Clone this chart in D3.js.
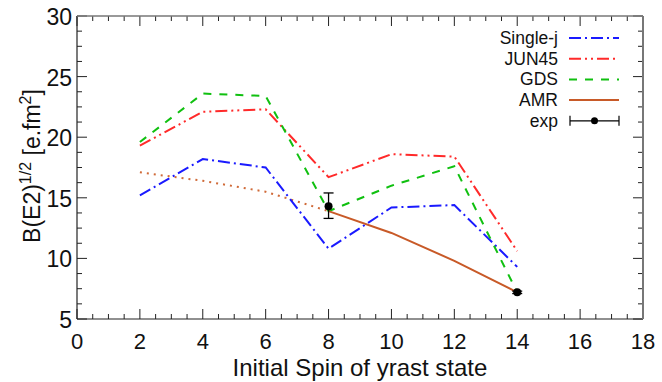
<!DOCTYPE html>
<html>
<head>
<meta charset="utf-8">
<script src="https://cdn.jsdelivr.net/npm/d3@7"></script>
<style>
  body { margin: 0; background: #fff; }
  svg { display: block; font-family: "Liberation Sans", Arial, sans-serif; }
</style>
</head>
<body>
<svg id="chart" width="662" height="382"></svg>
<script>
// spins of the yrast states
const spins = [2, 4, 6, 8, 10, 12, 14];
const singleJ = [15.2, 18.2, 17.5, 10.8, 14.2, 14.4, 9.3];
const jun45 = [19.3, 22.1, 22.3, 16.7, 18.6, 18.4, 10.6];
const gds = [19.6, 23.6, 23.4, 13.9, 16.0, 17.6, 7.2];
// AMR: dotted part up to spin 8, solid from spin 8 on
const amrDotSpins = [2, 4, 6, 8];
const amrDot = [17.1, 16.4, 15.5, 13.9];
const amrSpins = [8, 10, 12, 14];
const amr = [13.9, 12.1, 9.8, 7.2];
// experimental points
const expSpins = [8, 14];
const expVal = [14.3, 7.2];
const expLo = [13.3, 7.1];
const expHi = [15.4, 7.3];

const xTicks = [0, 2, 4, 6, 8, 10, 12, 14, 16, 18];
const yTicks = [5, 10, 15, 20, 25, 30];

const svg = d3.select('#chart');
const L = 77, R = 643, T = 16, B = 319;
const x = d3.scaleLinear().domain([0, 18]).range([L, R]);
const y = d3.scaleLinear().domain([5, 30]).range([B, T]);

// minor ticks (4 intervals between majors)
const xMinor = d3.range(0, 18.01, 0.5).filter(v => v % 2 !== 0);
const yMinor = d3.range(5, 30.01, 1.25).filter(v => v % 5 !== 0);

const tickCol = '#222';
function tickSet(vals, len, side) {
  vals.forEach(v => {
    if (side === 'b') svg.append('line').attr('x1', x(v)).attr('x2', x(v)).attr('y1', B).attr('y2', B - len);
    if (side === 't') svg.append('line').attr('x1', x(v)).attr('x2', x(v)).attr('y1', T).attr('y2', T + len);
    if (side === 'l') svg.append('line').attr('x1', L).attr('x2', L + len).attr('y1', y(v)).attr('y2', y(v));
    if (side === 'r') svg.append('line').attr('x1', R).attr('x2', R - len).attr('y1', y(v)).attr('y2', y(v));
  });
}
['b', 't'].forEach(s => { tickSet(xTicks, 10, s); tickSet(xMinor, 5, s); });
['l', 'r'].forEach(s => { tickSet(yTicks, 10, s); tickSet(yMinor, 5, s); });
svg.selectAll('line').attr('stroke', tickCol).attr('stroke-width', 1);

// frame
svg.append('line').attr('x1', L).attr('x2', R).attr('y1', B).attr('y2', B).attr('stroke', '#222').attr('stroke-width', 1.2);
svg.append('line').attr('x1', L).attr('x2', L).attr('y1', T).attr('y2', B).attr('stroke', '#222').attr('stroke-width', 1.2);
svg.append('line').attr('x1', L).attr('x2', R).attr('y1', T).attr('y2', T).attr('stroke', '#777').attr('stroke-width', 1.5);
svg.append('line').attr('x1', R).attr('x2', R).attr('y1', T).attr('y2', B).attr('stroke', '#777').attr('stroke-width', 2);

// tick labels
svg.append('g').selectAll('text').data(xTicks).join('text')
  .attr('x', d => x(d)).attr('y', 349).attr('text-anchor', 'middle')
  .attr('font-size', 22).attr('fill', '#111').text(d => d);
svg.append('g').selectAll('text').data(yTicks).join('text')
  .attr('x', 72).attr('y', d => y(d) + 9).attr('text-anchor', 'end')
  .attr('font-size', 23).attr('fill', '#111').text(d => d);

// axis titles
svg.append('text').attr('x', (L + R) / 2).attr('y', 376).attr('text-anchor', 'middle')
  .attr('font-size', 24).attr('fill', '#111').text('Initial Spin of yrast state');
const yt = svg.append('text').attr('transform', 'translate(40,166) rotate(-90)')
  .attr('text-anchor', 'middle').attr('font-size', 23).attr('fill', '#111');
yt.append('tspan').text('B(E2)');
yt.append('tspan').attr('dy', -9).attr('font-size', 16).text('1/2');
yt.append('tspan').attr('dy', 9).text(' [e.fm');
yt.append('tspan').attr('dy', -9).attr('font-size', 16).text('2');
yt.append('tspan').attr('dy', 9).text(']');

const line = d3.line().x(d => x(d[0])).y(d => y(d[1]));
const series = [
  { name: 'Single-j', xs: spins, ys: singleJ, color: '#1a1aff', dash: '12,4,2,4' },
  { name: 'JUN45', xs: spins, ys: jun45, color: '#ff2a2a', dash: '12,4,2,4,2,4' },
  { name: 'GDS', xs: spins, ys: gds, color: '#10c010', dash: '8,8' },
  { name: 'AMR', xs: amrSpins, ys: amr, color: '#c85a28', dash: null }
];

svg.append('path').datum(amrDotSpins.map((s, i) => [s, amrDot[i]]))
  .attr('d', line).attr('fill', 'none').attr('stroke', '#d06a38')
  .attr('stroke-width', 2).attr('stroke-dasharray', '2,5');

series.forEach(s => {
  svg.append('path').datum(s.xs.map((v, i) => [v, s.ys[i]]))
    .attr('d', line).attr('fill', 'none').attr('stroke', s.color)
    .attr('stroke-width', 2).attr('stroke-dasharray', s.dash);
});

// experimental points with error bars
expSpins.forEach((s, i) => {
  const g = svg.append('g').attr('stroke', '#000').attr('stroke-width', 1.3);
  g.append('line').attr('x1', x(s)).attr('x2', x(s)).attr('y1', y(expLo[i])).attr('y2', y(expHi[i]));
  g.append('line').attr('x1', x(s) - 5).attr('x2', x(s) + 5).attr('y1', y(expLo[i])).attr('y2', y(expLo[i]));
  g.append('line').attr('x1', x(s) - 5).attr('x2', x(s) + 5).attr('y1', y(expHi[i])).attr('y2', y(expHi[i]));
  svg.append('circle').attr('cx', x(s)).attr('cy', y(expVal[i])).attr('r', 4).attr('fill', '#000');
});

// legend
const leg = svg.append('g');
const legItems = series.concat([{ name: 'exp' }]);
legItems.forEach((s, i) => {
  const yy = 38 + i * 20.7;
  leg.append('text').attr('x', 558).attr('y', yy + 6).attr('text-anchor', 'end')
    .attr('font-size', 17.5).attr('fill', '#111').text(s.name);
  if (s.color) {
    leg.append('line').attr('x1', 569).attr('x2', 619).attr('y1', yy).attr('y2', yy)
      .attr('stroke', s.color).attr('stroke-width', 2).attr('stroke-dasharray', s.dash);
  } else {
    const g = leg.append('g').attr('stroke', '#000').attr('stroke-width', 1.2);
    g.append('line').attr('x1', 570).attr('x2', 619).attr('y1', yy).attr('y2', yy);
    g.append('line').attr('x1', 570).attr('x2', 570).attr('y1', yy - 5).attr('y2', yy + 5);
    g.append('line').attr('x1', 619).attr('x2', 619).attr('y1', yy - 5).attr('y2', yy + 5);
    leg.append('circle').attr('cx', 594.5).attr('cy', yy).attr('r', 3.5).attr('fill', '#000');
  }
});
</script>
</body>
</html>
